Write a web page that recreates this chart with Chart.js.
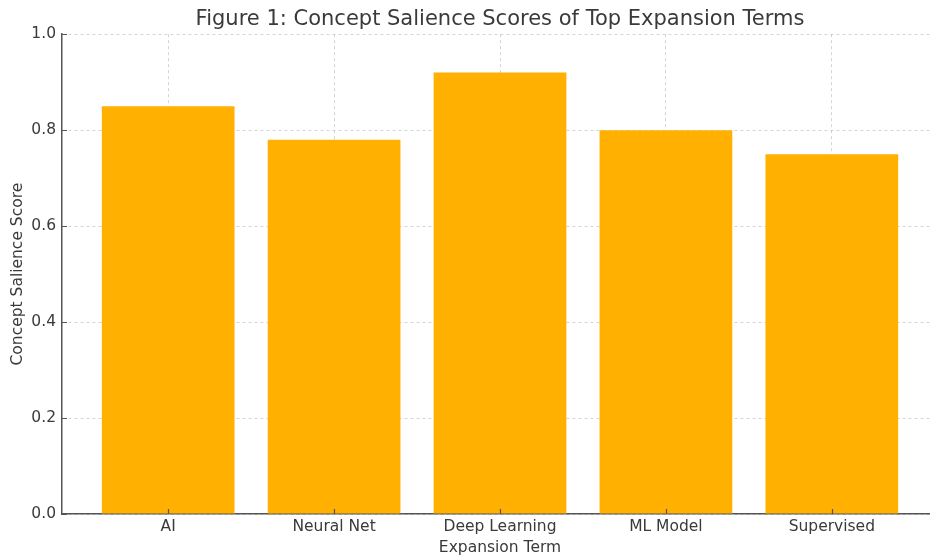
<!DOCTYPE html>
<html lang="en">
<head>
    <meta charset="UTF-8">
    <title>Concept Salience Scores</title>
    <script src="https://cdn.jsdelivr.net/npm/chart.js"></script>
    <style>
        body { margin: 0; background: #fff; overflow: hidden; }
    </style>
</head>
<body>
    <!-- canvas is a bit wider than the window so the plot runs off the right edge like the original -->
    <canvas id="salienceChart" width="1000" height="557"></canvas>

    <script>
        // values
        const terms = ["AI", "Neural Net", "Deep Learning", "ML Model", "Supervised"];
        const scores = [0.85, 0.78, 0.92, 0.80, 0.75];
        const yTicks = [0, 0.2, 0.4, 0.6, 0.8, 1.0];

        const font = "'DejaVu Sans', sans-serif";
        const textColor = "#3a3a3a";
        const gridColor = "rgba(160,160,160,0.45)";
        const axisColor = "#555";

        // small tick marks pointing into the plot
        const innerTicks = {
            id: 'innerTicks',
            afterDraw(chart) {
                const { ctx, chartArea, scales } = chart;
                ctx.save();
                ctx.strokeStyle = axisColor;
                ctx.lineWidth = 1.2;
                ctx.beginPath();
                terms.forEach((t, i) => {
                    const px = Math.round(scales.x.getPixelForValue(i)) + 0.5;
                    ctx.moveTo(px, chartArea.bottom);
                    ctx.lineTo(px, chartArea.bottom - 5);
                });
                yTicks.forEach(v => {
                    const py = Math.round(scales.y.getPixelForValue(v)) + 0.5;
                    ctx.moveTo(chartArea.left, py);
                    ctx.lineTo(chartArea.left + 5, py);
                });
                ctx.stroke();
                ctx.restore();
            }
        };

        new Chart(document.getElementById("salienceChart"), {
            type: 'bar',
            data: {
                datasets: [{
                    data: terms.map((t, i) => ({ x: i, y: scores[i] })),
                    backgroundColor: "#FFB000",
                    borderWidth: 0,
                    barPercentage: 1.0,
                    categoryPercentage: 0.8
                }]
            },
            plugins: [innerTicks],
            options: {
                responsive: false,
                animation: false,
                layout: { padding: 0 },
                plugins: {
                    legend: { display: false },
                    tooltip: { enabled: false },
                    title: {
                        display: true,
                        text: "Figure 1: Concept Salience Scores of Top Expansion Terms",
                        color: textColor,
                        font: { family: font, size: 21, weight: 'normal' },
                        padding: { top: 7, bottom: 2 }
                    }
                },
                scales: {
                    x: {
                        type: 'linear',
                        min: -0.64,
                        max: 4.64,
                        offset: false,
                        z: 1,
                        afterBuildTicks: s => { s.ticks = terms.map((t, i) => ({ value: i })); },
                        afterFit: s => { s.height = 43; },
                        ticks: {
                            autoSkip: false,
                            maxRotation: 0,
                            color: textColor,
                            padding: 4,
                            font: { family: font, size: 15.5 },
                            callback: v => terms[v]
                        },
                        grid: {
                            offset: false,
                            color: gridColor,
                            drawTicks: false
                        },
                        border: { color: axisColor, width: 1.5, dash: [3, 3] },
                        title: {
                            display: true,
                            text: "Expansion Term",
                            color: textColor,
                            font: { family: font, size: 15.5 },
                            padding: 0
                        }
                    },
                    y: {
                        min: 0,
                        max: 1,
                        z: 1,
                        afterBuildTicks: s => { s.ticks = yTicks.map(v => ({ value: v })); },
                        afterFit: s => { s.width = 62; },
                        ticks: {
                            color: textColor,
                            padding: 6,
                            font: { family: font, size: 15.5 },
                            callback: v => v.toFixed(1)
                        },
                        grid: {
                            color: gridColor,
                            drawTicks: false
                        },
                        border: { color: axisColor, width: 1.5, dash: [3, 3] },
                        title: {
                            display: true,
                            text: "Concept Salience Score",
                            color: textColor,
                            font: { family: font, size: 15.5 },
                            padding: { top: 9, bottom: 0 }
                        }
                    },
                    // empty right-hand box so the title centres over the plot
                    yRight: {
                        axis: 'y',
                        position: 'right',
                        display: true,
                        afterFit: s => { s.width = 62; },
                        ticks: { display: false },
                        grid: { display: false, drawTicks: false },
                        border: { display: false }
                    }
                }
            }
        });
    </script>
</body>
</html>
